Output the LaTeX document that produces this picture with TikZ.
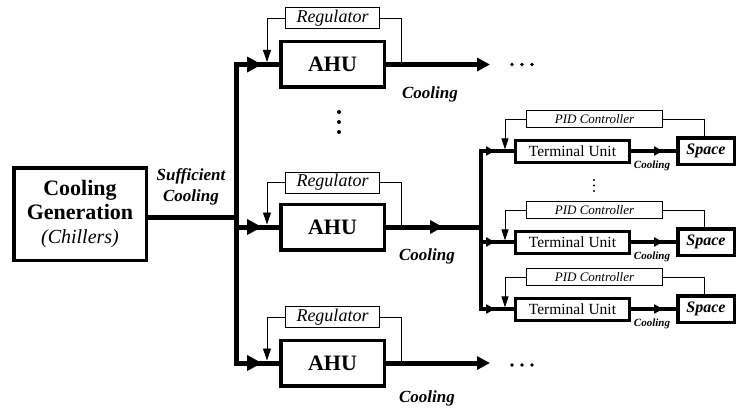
\documentclass[tikz,border=0pt]{standalone}
\usepackage{fontspec}
\setmainfont{Liberation Serif}
\usetikzlibrary{arrows.meta,decorations.markings}
\begin{document}
\begin{tikzpicture}[x=1pt,y=-1pt,
  cgbox/.style={draw,line width=3.5pt,inner sep=0pt,minimum width=132.5pt,minimum height=92.5pt,align=center,font=\fontsize{22}{24}\selectfont},
  ahubox/.style={draw,line width=3.5pt,inner sep=0pt,minimum width=103.5pt,minimum height=45.5pt,font=\fontsize{22}{24}\selectfont\bfseries},
  regbox/.style={draw,line width=0.9pt,inner sep=0pt,minimum width=94pt,minimum height=21pt,font=\fontsize{18}{20}\selectfont\itshape},
  tubox/.style={draw,line width=3pt,inner sep=0pt,minimum width=114pt,minimum height=22pt,font=\fontsize{15.5}{18}\selectfont},
  pidbox/.style={draw,line width=0.9pt,inner sep=0pt,minimum width=136pt,minimum height=17pt,font=\fontsize{13}{15}\selectfont\itshape},
  spbox/.style={draw,line width=3.5pt,inner sep=0pt,minimum width=56.5pt,minimum height=26.5pt,font=\fontsize{16}{18}\selectfont\bfseries\itshape},
  biglabel/.style={font=\fontsize{17}{21}\selectfont\bfseries\itshape,align=center,inner sep=0pt},
  smalllabel/.style={font=\fontsize{11}{13}\selectfont\bfseries\itshape,inner sep=0pt},
  thickline/.style={line width=5pt},
  medline/.style={line width=3.2pt},
  fb/.style={line width=0.9pt},
  fbarrow/.style={fb,-{Triangle[length=12pt,width=8pt]}},
  bigtip/.style={-{Triangle[length=13pt,width=13pt]}},
  markarrow/.style 2 args={postaction={decorate},decoration={markings,mark=at position #1 with {\arrow{Triangle[length=#2,width=#2]}}}},
]
\useasboundingbox (0,0) rectangle (737,412);

% Cooling generation
\node[cgbox] (cg) at (80,214) {\textbf{Cooling}\\\textbf{Generation}\\{\fontsize{20}{24}\selectfont\itshape(Chillers)}};
\node[biglabel] (suff) at (191,187) {Sufficient\\Cooling};

% left bus
\coordinate (jtop) at (236,64.5);
\coordinate (jcg) at (236,217);
\coordinate (jmid) at (236,227);
\coordinate (jbot) at (236,363);
\draw[thickline] ([yshift=2.5pt]jtop) -- ([yshift=-2.5pt]jbot);
\draw[thickline] (cg.east |- jcg) -- (jcg);

% AHUs and regulators
\node[ahubox] (ahu1) at (332.5,64.5) {AHU};
\node[regbox] (reg1) at (332.5,18) {Regulator};
\node[ahubox] (ahu2) at (332.5,227) {AHU};
\node[regbox] (reg2) at (332.5,182.5) {Regulator};
\node[ahubox] (ahu3) at (332.5,363) {AHU};
\node[regbox] (reg3) at (332.5,317) {Regulator};

\foreach \i/\j in {1/jtop,2/jmid,3/jbot}{
  \draw[thickline,markarrow={-17pt}{15pt}] (\j) -- (ahu\i.west);
  \draw[fb] ([xshift=15pt]ahu\i.east) |- (reg\i.east);
  \draw[fbarrow] (reg\i.west) -| ([xshift=-12pt,yshift=2.5pt]ahu\i.west);
}

% AHU outputs
\coordinate (o1) at (490,64.5);
\coordinate (o3) at (490,363);
\draw[thickline,bigtip] (ahu1.east) -- (o1);
\draw[thickline,bigtip] (ahu3.east) -- (o3);
\foreach \x in {512,522,532}{
  \fill (\x,64.5) circle (1.8);
  \fill (\x,365) circle (1.8);
}
\node[biglabel] (c1) at (430,94) {Cooling};
\node[biglabel] (c2) at (427,256) {Cooling};
\node[biglabel] (c3) at (427,398) {Cooling};
\foreach \y in {112,122,132}{\fill (339,\y) circle (2);}

% right bus
\coordinate (rb1) at (481,151);
\coordinate (rbm) at (481,227);
\coordinate (rb2) at (481,242);
\coordinate (rb3) at (481,309);
\draw[thickline,markarrow={57pt}{13pt}] (ahu2.east) -- (rbm);
\draw[line width=3.5pt] ([yshift=1.6pt]rb1) -- ([yshift=-1.6pt]rb3);

% terminal units, PID, spaces
\foreach \i/\y/\p in {1/151/119,2/242/210,3/309/277}{
  \node[tubox] (tu\i) at (572.5,\y) {Terminal Unit};
  \node[pidbox] (pid\i) at (594.5,\p) {PID Controller};
  \node[spbox] (sp\i) at (706,\y) {Space};
  \draw[medline,markarrow={-19pt}{9pt}] (rb\i) -- (tu\i.west);
  \draw[medline,markarrow={-13pt}{9pt}] (tu\i.east) -- (sp\i.west);
  \draw[fb] ([xshift=-2pt]sp\i.north) |- (pid\i.east);
  \draw[fb,-{Triangle[length=11pt,width=7pt]}] (pid\i.west) -| ([xshift=-9pt,yshift=1.6pt]tu\i.west);
  \node[smalllabel] (sc\i) at (652,\y+15) {Cooling};
}
\foreach \y in {180,185.5,191}{\fill (594,\y) circle (1.2);}
\end{tikzpicture}
\end{document}
